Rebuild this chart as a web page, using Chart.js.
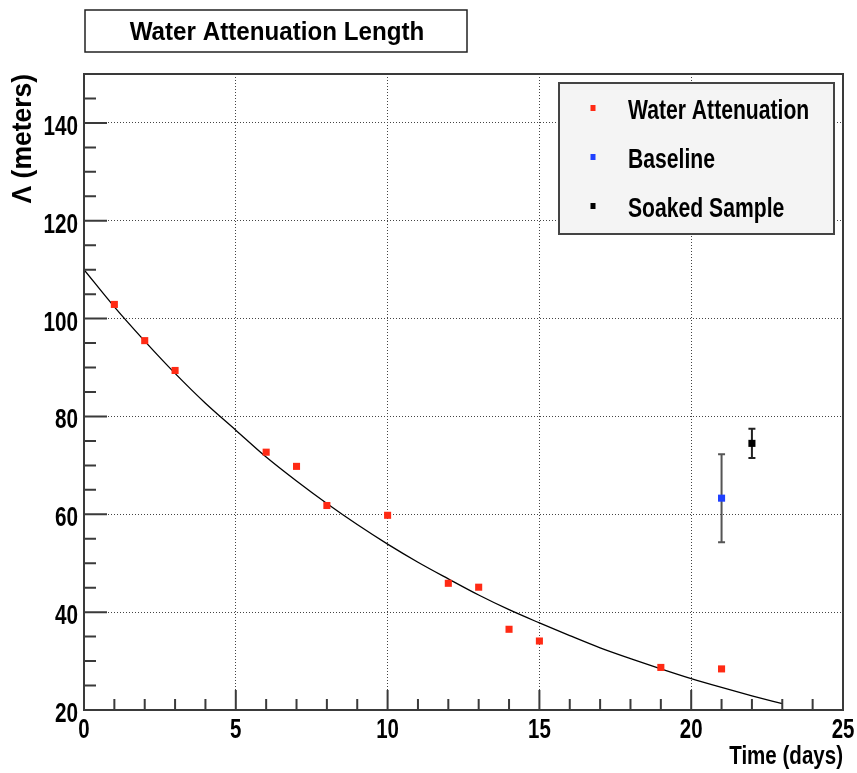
<!DOCTYPE html>
<html>
<head>
<meta charset="utf-8">
<title>Water Attenuation Length</title>
<script src="https://cdn.jsdelivr.net/npm/chart.js@4"></script>
<style>
  body { margin: 0; background: #fff; }
  #wrap { width: 857px; height: 773px; }
</style>
</head>
<body>
<div id="wrap"><canvas id="chart" width="857" height="773"></canvas></div>
<script>
// values
const attenDays = [1, 2, 3, 6, 7, 8, 10, 12, 13, 14, 15, 19, 21];
const attenLength = [102.9, 95.5, 89.4, 72.7, 69.8, 61.8, 59.8, 45.9, 45.1, 36.5, 34.1, 28.7, 28.4];

const baselineDay = [21];
const baselineLength = [63.3];
const baselineErr = [9.0];

const soakedDay = [22];
const soakedLength = [74.5];
const soakedErr = [3.0];

// fitted curve, read every day
const fitDays = [0, 1, 2, 3, 4, 5, 6, 7, 8, 9, 10, 11, 12, 13, 14, 15, 16, 17, 18, 19, 20, 21, 22, 23];
const fitLength = [110, 102.4, 95.4, 88.8, 82.7, 77.2, 71.7, 66.8, 62.2, 57.9, 53.9, 50.2, 46.8, 43.5, 40.5, 37.8, 35.2, 32.7, 30.5, 28.4, 26.4, 24.6, 22.9, 21.3];

const legendLabels = ['Water Attenuation', 'Baseline', 'Soaked Sample'];
const titleText = 'Water Attenuation Length';
const xTitle = 'Time (days)';
const yTitle = '\u039B (meters)';

const RED = '#ff2a14';
const BLUE = '#1f40ff';
const BLACK = '#000000';
const FONT = '"Liberation Sans", Arial, Helvetica, sans-serif';

function pts(xs, ys) {
  return xs.map((x, i) => ({x: x, y: ys[i]}));
}

// bold text, squeezed sideways like the ROOT font
function txt(ctx, s, x, y, size, sx, align, rot) {
  ctx.save();
  ctx.translate(x, y);
  if (rot) ctx.rotate(rot);
  ctx.scale(sx, 1);
  ctx.font = 'bold ' + size + 'px ' + FONT;
  ctx.textAlign = align;
  ctx.textBaseline = 'alphabetic';
  ctx.fillStyle = '#000';
  ctx.fillText(s, 0, 0);
  ctx.restore();
}

const rootLook = {
  id: 'rootLook',
  beforeDatasetsDraw(chart) {
    const ctx = chart.ctx;
    const xs = chart.scales.x, ys = chart.scales.y;
    // error bars under the markers
    const bars = [
      [baselineDay, baselineLength, baselineErr, '#555'],
      [soakedDay, soakedLength, soakedErr, '#222']
    ];
    ctx.save();
    ctx.lineWidth = 2;
    bars.forEach(([dx, dy, de, col]) => {
      ctx.strokeStyle = col;
      dx.forEach((d, i) => {
        const px = xs.getPixelForValue(d);
        const top = ys.getPixelForValue(dy[i] + de[i]);
        const bot = ys.getPixelForValue(dy[i] - de[i]);
        ctx.beginPath();
        ctx.moveTo(px, top); ctx.lineTo(px, bot);
        ctx.moveTo(px - 3.5, top); ctx.lineTo(px + 3.5, top);
        ctx.moveTo(px - 3.5, bot); ctx.lineTo(px + 3.5, bot);
        ctx.stroke();
      });
    });
    ctx.restore();
  },
  afterDatasetsDraw(chart) {
    const ctx = chart.ctx;
    const a = chart.chartArea;
    const xs = chart.scales.x, ys = chart.scales.y;

    ctx.save();
    // frame
    ctx.strokeStyle = '#3a3a3a';
    ctx.lineWidth = 2;
    ctx.strokeRect(a.left, a.top, a.right - a.left, a.bottom - a.top);

    // inward ticks
    ctx.beginPath();
    for (let v = xs.min; v <= xs.max; v += 1) {
      const px = xs.getPixelForValue(v);
      const len = v % 5 === 0 ? 20 : 11;
      ctx.moveTo(px, a.bottom); ctx.lineTo(px, a.bottom - len);
    }
    for (let v = ys.min; v <= ys.max; v += 5) {
      const py = ys.getPixelForValue(v);
      const len = v % 20 === 0 ? 23 : 12;
      ctx.moveTo(a.left, py); ctx.lineTo(a.left + len, py);
    }
    ctx.stroke();

    // tick labels
    xs.ticks.forEach(t => {
      txt(ctx, String(t.value), xs.getPixelForValue(t.value), a.bottom + 28, 28, 0.73, 'center');
    });
    ys.ticks.forEach(t => {
      txt(ctx, String(t.value), a.left - 6, ys.getPixelForValue(t.value) + 12, 28, 0.74, 'right');
    });

    // axis titles
    txt(ctx, xTitle, a.right, 764, 26, 0.79, 'right');
    txt(ctx, yTitle, 31, a.top, 27, 0.98, 'right', -Math.PI / 2);

    // title box
    ctx.fillStyle = '#fff';
    ctx.fillRect(85, 10, 382, 42);
    ctx.strokeStyle = '#222';
    ctx.lineWidth = 1.5;
    ctx.strokeRect(85, 10, 382, 42);
    txt(ctx, titleText, 277, 39.5, 26, 0.93, 'center');

    // legend box
    ctx.fillStyle = '#f4f4f4';
    ctx.fillRect(559, 83, 275, 151);
    ctx.strokeStyle = '#444';
    ctx.lineWidth = 2;
    ctx.strokeRect(559, 83, 275, 151);
    const cols = [RED, BLUE, BLACK];
    legendLabels.forEach((lab, i) => {
      const base = 119 + i * 49;
      ctx.fillStyle = cols[i];
      ctx.fillRect(590.5, base - 14, 5, 6);
      txt(ctx, lab, 628, base, 28, 0.755, 'left');
    });
    ctx.restore();
  }
};

new Chart(document.getElementById('chart'), {
  type: 'scatter',
  data: {
    datasets: [
      {
        label: legendLabels[0],
        data: pts(attenDays, attenLength),
        backgroundColor: RED, borderColor: RED,
        pointStyle: 'rect', pointRadius: 5, borderWidth: 0
      },
      {
        label: legendLabels[1],
        data: pts(baselineDay, baselineLength),
        backgroundColor: BLUE, borderColor: BLUE,
        pointStyle: 'rect', pointRadius: 5, borderWidth: 0
      },
      {
        label: legendLabels[2],
        data: pts(soakedDay, soakedLength),
        backgroundColor: BLACK, borderColor: BLACK,
        pointStyle: 'rect', pointRadius: 5, borderWidth: 0
      },
      {
        label: 'fit',
        type: 'line',
        data: pts(fitDays, fitLength),
        borderColor: '#000', borderWidth: 1.3,
        pointRadius: 0, cubicInterpolationMode: 'monotone',
        fill: false, order: 10
      }
    ]
  },
  options: {
    responsive: false,
    animation: false,
    layout: { padding: { top: 74, right: 14, left: 0, bottom: 0 } },
    plugins: { legend: { display: false }, tooltip: { enabled: false }, title: { display: false } },
    scales: {
      x: {
        type: 'linear', min: 0, max: 25,
        ticks: { stepSize: 5, display: false },
        grid: { color: '#444', lineWidth: 1, drawTicks: false },
        border: { display: false, dash: [1, 2] },
        afterFit: s => { s.height = 63; }
      },
      y: {
        type: 'linear', min: 20, max: 150,
        ticks: { stepSize: 20, includeBounds: false, display: false },
        grid: { color: '#444', lineWidth: 1, drawTicks: false },
        border: { display: false, dash: [1, 2] },
        afterFit: s => { s.width = 84; }
      }
    }
  },
  plugins: [rootLook]
});
</script>
</body>
</html>
